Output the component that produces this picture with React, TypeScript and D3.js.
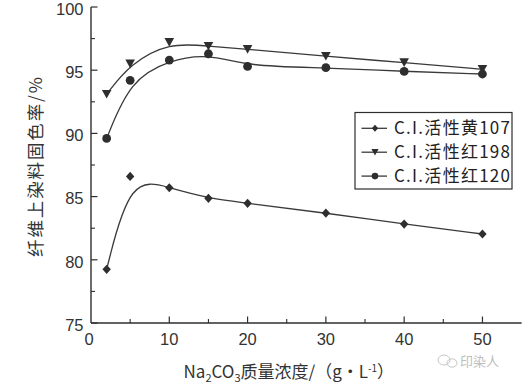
import React from "react";
import * as d3 from "d3";

const concentrations = [2, 5, 10, 15, 20, 30, 40, 50];
const yellow107 = [79.25, 86.6, 85.7, 84.86, 84.47, 83.7, 82.83, 82.04];
const red198 = [93.1, 95.5, 97.2, 96.9, 96.65, 96.1, 95.6, 95.07];
const red120 = [89.6, 94.2, 95.8, 96.3, 95.3, 95.2, 94.9, 94.7];
const seriesNames = ["C.I.活性黄107", "C.I.活性红198", "C.I.活性红120"];
const xTicks = [0, 10, 20, 30, 40, 50];
const xMinor = [5, 15, 25, 35, 45];
const yTicks = [75, 80, 85, 90, 95, 100];
const yMinor = [77.5, 82.5, 87.5, 92.5, 97.5];

const W = 522;
const H = 384;
const ink = "#2e2e2e";

const x = d3.scaleLinear().domain([0, 55]).range([91, 521.6]);
const y = d3.scaleLinear().domain([75, 100]).range([323, 7]);

function Marker({ kind, cx, cy, s = 1 }: { kind: number; cx: number; cy: number; s?: number }) {
  if (kind === 0) {
    const w = 4.2 * s, h = 4.6 * s;
    return <path d={`M${cx},${cy - h}L${cx + w},${cy}L${cx},${cy + h}L${cx - w},${cy}Z`} fill={ink} />;
  }
  if (kind === 1) {
    const w = 4.8 * s, h = 4.3 * s;
    return <path d={`M${cx - w},${cy - h}L${cx + w},${cy - h}L${cx},${cy + h}Z`} fill={ink} />;
  }
  return <circle cx={cx} cy={cy} r={4.4 * s} fill={ink} />;
}

export default function App() {
  const all = [yellow107, red198, red120];
  const line = d3
    .line<number>()
    .x((_, i) => x(concentrations[i]))
    .y((d) => y(d))
    .curve(d3.curveBasis);
  const numFont = "'Liberation Sans', Arial, sans-serif";
  const cjkFont = "'Noto Sans CJK SC', sans-serif";
  return (
    <svg width={W} height={H} style={{ position: "absolute", left: 0, top: 0, background: "#fff" }}>
      <rect width={W} height={H} fill="#fff" />
      {/* axes */}
      <line x1={x(0)} x2={x(0)} y1={y(100)} y2={y(75)} stroke={ink} strokeWidth={1.4} />
      <line x1={x(0)} x2={x(55)} y1={y(75)} y2={y(75)} stroke={ink} strokeWidth={1.4} />
      {yTicks.map((t) => (
        <g key={"y" + t}>
          <line x1={x(0)} x2={x(0) + 6.5} y1={y(t)} y2={y(t)} stroke={ink} strokeWidth={1.2} />
          <text x={83.5} y={y(t) + 1.8} dy="0.36em" textAnchor="end" fontFamily={numFont} fontSize={16.5} fill="#333">
            {t}
          </text>
        </g>
      ))}
      {yMinor.map((t) => (
        <line key={"ym" + t} x1={x(0)} x2={x(0) + 4} y1={y(t)} y2={y(t)} stroke={ink} strokeWidth={1.1} />
      ))}
      {xTicks.map((t) => (
        <g key={"x" + t}>
          {t > 0 && <line x1={x(t)} x2={x(t)} y1={y(75)} y2={y(75) - 6.5} stroke={ink} strokeWidth={1.2} />}
          <text x={t === 0 ? x(t) - 2 : x(t)} y={339.5} dy="0.36em" textAnchor="middle" fontFamily={numFont} fontSize={16.5} fill="#333">
            {t}
          </text>
        </g>
      ))}
      {xMinor.map((t) => (
        <line key={"xm" + t} x1={x(t)} x2={x(t)} y1={y(75)} y2={y(75) - 4} stroke={ink} strokeWidth={1.1} />
      ))}
      {/* curves */}
      {all.map((s, k) => (
        <path key={"c" + k} d={line(s) || ""} fill="none" stroke="#3a3a3a" strokeWidth={1.3} />
      ))}
      {all.map((s, k) =>
        s.map((v, i) => <Marker key={k + "-" + i} kind={k} cx={x(concentrations[i])} cy={y(v)} />)
      )}
      {/* legend */}
      <rect x={355} y={112.5} width={157} height={76.5} fill="#fff" stroke={ink} strokeWidth={1.2} />
      {seriesNames.map((n, k) => {
        const cy = 128.3 + k * 23.9;
        return (
          <g key={"l" + k}>
            <line x1={361.5} x2={387} y1={cy} y2={cy} stroke="#3a3a3a" strokeWidth={1.3} />
            <Marker kind={k} cx={375} cy={cy} s={0.75} />
            <text x={394} y={cy} dy="0.36em" fontFamily={cjkFont} fontSize={17} fill="#222" textLength={116} lengthAdjust="spacing">
              {n}
            </text>
          </g>
        );
      })}
      {/* axis titles */}
      <text
        transform={`translate(36,167) rotate(-90)`}
        textAnchor="middle"
        dy="0.36em"
        fontFamily={cjkFont}
        fontSize={17.5}
        fill="#333"
        textLength={180}
        lengthAdjust="spacing"
      >
        纤维上染料固色率/%
      </text>
      <text x={183.5} y={371.5} dy="0.36em" fontFamily={cjkFont} fontSize={17} fill="#333">
        Na
        <tspan fontSize={11} dy={4}>2</tspan>
        <tspan dy={-4}>CO</tspan>
        <tspan fontSize={11} dy={4}>3</tspan>
        <tspan dy={-4}>质量浓度/（g·L</tspan>
        <tspan fontSize={10} dy={-6}>-1</tspan>
        <tspan dy={6}>）</tspan>
      </text>
      {/* watermark */}
      <g opacity={0.55}>
        <ellipse cx={444} cy={360} rx={6} ry={5} fill="none" stroke="#999" strokeWidth={1} />
        <ellipse cx={452} cy={363} rx={5} ry={4.2} fill="none" stroke="#999" strokeWidth={1} />
        <text x={460} y={361} dy="0.36em" fontFamily={cjkFont} fontSize={13} fill="#888">
          印染人
        </text>
      </g>
    </svg>
  );
}
